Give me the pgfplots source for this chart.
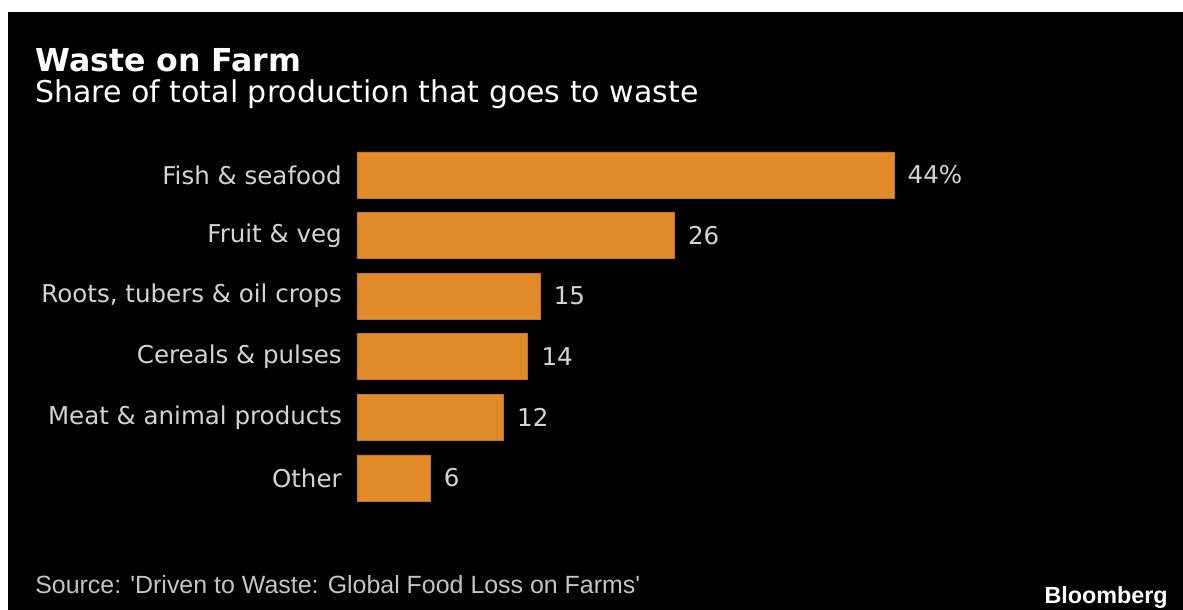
\documentclass[border=0pt]{standalone}
\usepackage{fontspec}
\setmainfont{DejaVu Sans}
\newfontfamily\libsans{Liberation Sans}
\usepackage{pgfplots}
\pgfplotsset{compat=1.18}
\definecolor{barorange}{HTML}{E08A2A}
\definecolor{labelgray}{HTML}{D4D4D4}
\definecolor{srcgray}{HTML}{C4C4C4}
\begin{document}
\begin{tikzpicture}
\fill[white] (0,0) rectangle (887.25pt,-457.5pt);
\fill[black] (6pt,-9pt) rectangle (887.25pt,-457.5pt);
\node[anchor=base west, inner sep=0pt, text=white, font=\fontsize{23.7}{27}\selectfont\bfseries] at (26.25pt,-54pt) {Waste on Farm};
\node[anchor=base west, inner sep=0pt, text=white, font=\fontsize{22.5}{27}\selectfont] at (26.25pt,-77.25pt) {Share of total production that goes to waste};
\node[anchor=base west, inner sep=0pt, text=srcgray, font=\libsans\fontsize{18.7}{22}\selectfont] at (26.25pt,-444.75pt) {Source: 'Driven to Waste: Global Food Loss on Farms'};
\node[anchor=base east, inner sep=0pt, text=white, font=\libsans\bfseries\fontsize{17.5}{20}\selectfont] at (876pt,-452.25pt) {Bloomberg};
\begin{axis}[
  at={(267.75pt,-381.2pt)}, anchor=south west,
  scale only axis, width=457.65pt, height=272.7pt,
  xbar, bar width=34.5pt,
  xmin=0, xmax=50, ymin=-0.5, ymax=5.5, y dir=reverse,
  axis line style={draw=none}, tick style={draw=none}, major tick length=0pt,
  xtick=\empty, ytick={0,1,2,3,4,5},
  yticklabels={Fish \& seafood, Fruit \& veg, {Roots, tubers \& oil crops}, Cereals \& pulses, Meat \& animal products, Other},
  yticklabel style={font=\fontsize{18.4}{22}\selectfont, text=labelgray, inner sep=0pt, xshift=-11.25pt},
  nodes near coords, point meta=explicit symbolic,
  every node near coord/.append style={font=\fontsize{18.4}{22}\selectfont, text=labelgray, anchor=west, inner sep=0pt, xshift=10pt},
]
\addplot[fill=barorange, draw=barorange!85!black, line width=0.6pt] coordinates {
  (44,0) [44\%]
  (26,1) [26]
  (15,2) [15]
  (14,3) [14]
  (12,4) [12]
  (6,5) [6]
};
\end{axis}
\end{tikzpicture}
\end{document}
